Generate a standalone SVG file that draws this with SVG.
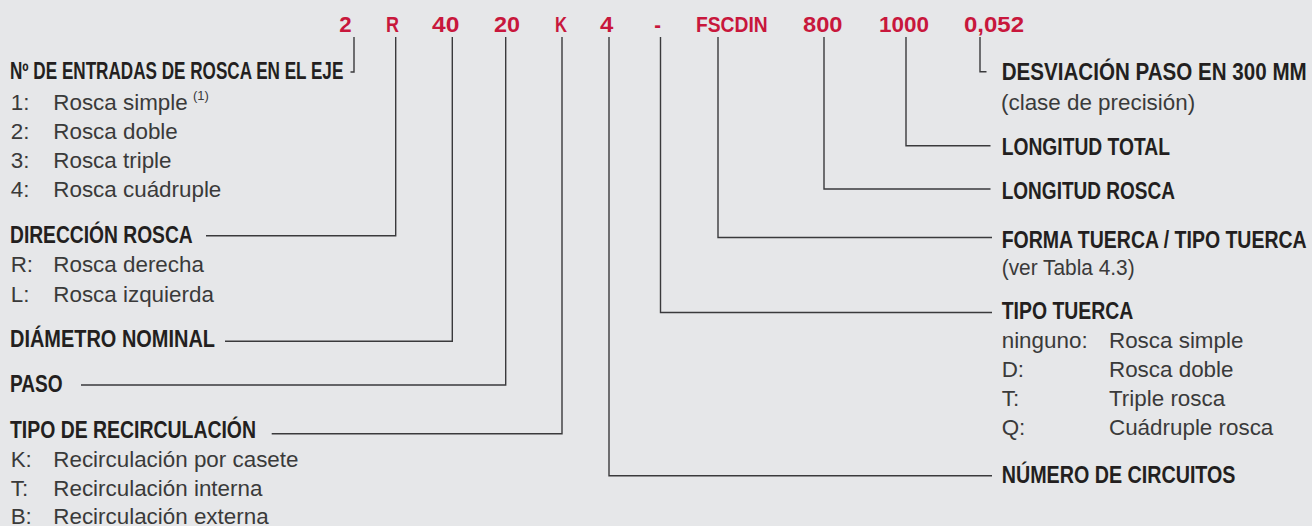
<svg xmlns="http://www.w3.org/2000/svg" width="1312" height="526" viewBox="0 0 1312 526">
<style>
.code{font-family:"Liberation Sans",Arial,sans-serif;font-weight:bold;font-size:22.5px;fill:#c8173c}
.hd{font-family:"Liberation Sans",Arial,sans-serif;font-weight:bold;font-size:23px;fill:#231f20}
.bd{font-family:"Liberation Sans",Arial,sans-serif;font-size:22.4px;fill:#3a3a3a}
.sup{font-family:"Liberation Sans",Arial,sans-serif;font-size:13px;fill:#3a3a3a}
.ln{fill:none;stroke:#3a3a3c;stroke-width:1.4}
</style>
<rect width="1312" height="526" fill="#e6e7e9"/>
<g id="codes">
<text class="code" x="339.3" y="32" textLength="12.4" lengthAdjust="spacingAndGlyphs">2</text>
<text class="code" x="386" y="32" textLength="13" lengthAdjust="spacingAndGlyphs">R</text>
<text class="code" x="432" y="32" textLength="27.3" lengthAdjust="spacingAndGlyphs">40</text>
<text class="code" x="494" y="32" textLength="26" lengthAdjust="spacingAndGlyphs">20</text>
<text class="code" x="555" y="32" textLength="12" lengthAdjust="spacingAndGlyphs">K</text>
<text class="code" x="600" y="32" textLength="13.3" lengthAdjust="spacingAndGlyphs">4</text>
<text class="code" x="654.3" y="32" textLength="6.7" lengthAdjust="spacingAndGlyphs">-</text>
<text class="code" x="696" y="32" textLength="71.7" lengthAdjust="spacingAndGlyphs">FSCDIN</text>
<text class="code" x="803" y="32" textLength="39.5" lengthAdjust="spacingAndGlyphs">800</text>
<text class="code" x="879" y="32" textLength="50" lengthAdjust="spacingAndGlyphs">1000</text>
<text class="code" x="964" y="32" textLength="60" lengthAdjust="spacingAndGlyphs">0,052</text>
</g>
<g id="connectors">
<path class="ln" d="M354,37 V72 H350.5"/>
<path class="ln" d="M395.7,37 V235.7 H206"/>
<path class="ln" d="M452.3,37 V341.3 H225"/>
<path class="ln" d="M505.7,37 V385 H81"/>
<path class="ln" d="M562,37 V433.7 H271.7"/>
<path class="ln" d="M609,37 V475.7 H992"/>
<path class="ln" d="M660.5,37 V312.5 H992"/>
<path class="ln" d="M718,37 V237.5 H992"/>
<path class="ln" d="M824,37 V189 H990.5"/>
<path class="ln" d="M906,37 V145.7 H990.5"/>
<path class="ln" d="M980,37 V71.7 H986.5"/>
</g>
<g id="node-entradas">
<text class="hd" x="10" y="79" textLength="333.3" lengthAdjust="spacingAndGlyphs">Nº DE ENTRADAS DE ROSCA EN EL EJE</text>
<text class="bd" x="10.7" y="110">1:</text><text class="bd" x="53.3" y="110">Rosca simple</text><text class="sup" x="193" y="100">(1)</text>
<text class="bd" x="10.7" y="139">2:</text><text class="bd" x="53.3" y="139">Rosca doble</text>
<text class="bd" x="10.7" y="168">3:</text><text class="bd" x="53.3" y="168">Rosca triple</text>
<text class="bd" x="10.7" y="197.3">4:</text><text class="bd" x="53.3" y="197.3">Rosca cuádruple</text>
</g>
<g id="node-direccion">
<text class="hd" x="10" y="242.7" textLength="182.7" lengthAdjust="spacingAndGlyphs">DIRECCIÓN ROSCA</text>
<text class="bd" x="10.7" y="271.7">R:</text><text class="bd" x="53.3" y="271.7">Rosca derecha</text>
<text class="bd" x="10.7" y="301.7">L:</text><text class="bd" x="53.3" y="301.7">Rosca izquierda</text>
</g>
<g id="node-diametro">
<text class="hd" x="10" y="346.7" textLength="205" lengthAdjust="spacingAndGlyphs">DIÁMETRO NOMINAL</text>
</g>
<g id="node-paso">
<text class="hd" x="10" y="391.7" textLength="52.7" lengthAdjust="spacingAndGlyphs">PASO</text>
</g>
<g id="node-recirculacion">
<text class="hd" x="10" y="438.3" textLength="246" lengthAdjust="spacingAndGlyphs">TIPO DE RECIRCULACIÓN</text>
<text class="bd" x="10.7" y="466.7">K:</text><text class="bd" x="53.3" y="466.7">Recirculación por casete</text>
<text class="bd" x="10.7" y="495.7">T:</text><text class="bd" x="53.3" y="495.7">Recirculación interna</text>
<text class="bd" x="10.7" y="524">B:</text><text class="bd" x="53.3" y="524">Recirculación externa</text>
</g>
<g id="node-desviacion">
<text class="hd" x="1001.7" y="80" textLength="305" lengthAdjust="spacingAndGlyphs">DESVIACIÓN PASO EN 300 MM</text>
<text class="bd" x="1001" y="110">(clase de precisión)</text>
</g>
<g id="node-longitud-total">
<text class="hd" x="1001.7" y="154.5" textLength="168.3" lengthAdjust="spacingAndGlyphs">LONGITUD TOTAL</text>
</g>
<g id="node-longitud-rosca">
<text class="hd" x="1001.7" y="199.3" textLength="173.3" lengthAdjust="spacingAndGlyphs">LONGITUD ROSCA</text>
</g>
<g id="node-forma-tuerca">
<text class="hd" x="1001.7" y="248.3" textLength="305" lengthAdjust="spacingAndGlyphs">FORMA TUERCA / TIPO TUERCA</text>
<text class="bd" x="1001.7" y="274.5" textLength="133" lengthAdjust="spacingAndGlyphs">(ver Tabla 4.3)</text>
</g>
<g id="node-tipo-tuerca">
<text class="hd" x="1001.7" y="318.5" textLength="131.6" lengthAdjust="spacingAndGlyphs">TIPO TUERCA</text>
<text class="bd" x="1001.7" y="347.5">ninguno:</text><text class="bd" x="1109" y="347.5">Rosca simple</text>
<text class="bd" x="1001.7" y="376.5">D:</text><text class="bd" x="1109" y="376.5">Rosca doble</text>
<text class="bd" x="1001.7" y="405.5">T:</text><text class="bd" x="1109" y="405.5">Triple rosca</text>
<text class="bd" x="1001.7" y="434.5">Q:</text><text class="bd" x="1109" y="434.5">Cuádruple rosca</text>
</g>
<g id="node-circuitos">
<text class="hd" x="1001.7" y="482.7" textLength="233.8" lengthAdjust="spacingAndGlyphs">NÚMERO DE CIRCUITOS</text>
</g>
</svg>
